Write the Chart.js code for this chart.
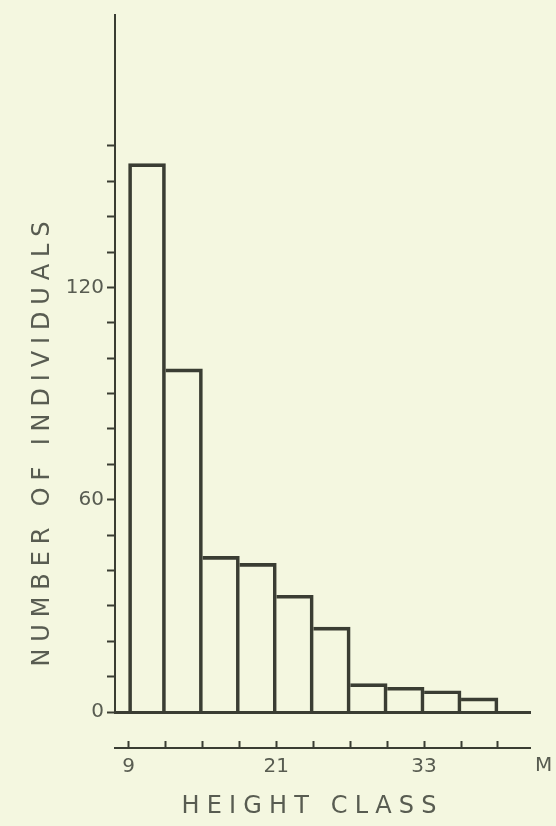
<!DOCTYPE html>
<html>
<head>
<meta charset="utf-8">
<script src="https://cdn.jsdelivr.net/npm/chart.js@4/dist/chart.umd.min.js"></script>
<style>
  html, body { margin: 0; padding: 0; background: #f4f7e0; }
  canvas { display: block; }
</style>
</head>
<body>
<canvas id="histogram" width="556" height="826"></canvas>
<script>
// height classes (lower bound in m, 3 m wide) and number of trees in each
const classStarts = [9, 12, 15, 18, 21, 24, 27, 30, 33, 36];
const classWidth = 3;
const counts = [155, 97, 44, 42, 33, 24, 8, 7, 6, 4];
const yTickLabels = [0, 60, 120];
const xTickLabels = [9, 21, 33];
const yTitle = 'NUMBER OF INDIVIDUALS';
const xTitle = 'HEIGHT CLASS';
const unitLabel = 'M';

const ink = '#3a3d33';
const textInk = '#585c51';
const family = '"DejaVu Sans", sans-serif';

const points = classStarts.map((s, i) => ({ x: s + classWidth / 2, y: counts[i] }));

// draws text spread out to a given width (lettering on the original is widely spaced)
function spreadText(ctx, text, cx, cy, width) {
  const chars = text.split('');
  const widths = chars.map(c => ctx.measureText(c).width);
  const plain = widths.reduce((a, b) => a + b, 0);
  const gap = (width - plain) / (chars.length - 1);
  let x = cx - width / 2;
  ctx.textAlign = 'left';
  chars.forEach((c, i) => {
    ctx.fillText(c, x, cy);
    x += widths[i] + gap;
  });
}

const axisTitles = {
  id: 'axisTitles',
  afterDraw(chart) {
    const ctx = chart.ctx;
    ctx.save();
    ctx.fillStyle = textInk;
    ctx.textBaseline = 'middle';
    ctx.font = '24px ' + family;
    spreadText(ctx, xTitle, 309, 807, 255);

    ctx.font = '20px ' + family;
    ctx.textAlign = 'left';
    ctx.fillText(unitLabel, 535, 766);

    ctx.font = '24px ' + family;
    ctx.translate(43, 444);
    ctx.rotate(-Math.PI / 2);
    spreadText(ctx, yTitle, 0, 0, 445);
    ctx.restore();
  }
};

// outline each bar, sharing the edge between neighbours (the taller one draws it)
const line = 3;
function barBorder(ctx) {
  const i = ctx.dataIndex;
  const h = counts[i];
  const prev = counts[i - 1];
  const next = counts[i + 1];
  return {
    top: line,
    bottom: 0,
    left: prev === undefined || prev < h ? line : 0,
    right: next === undefined || next <= h ? line : 0
  };
}

new Chart(document.getElementById('histogram'), {
  type: 'bar',
  data: {
    datasets: [{
      data: points,
      backgroundColor: 'rgba(0,0,0,0)',
      borderColor: ink,
      borderSkipped: false,
      borderWidth: barBorder,
      barPercentage: 1,
      categoryPercentage: 1
    }]
  },
  options: {
    responsive: false,
    animation: false,
    devicePixelRatio: 1,
    layout: { padding: { top: 10, right: 26, left: 0, bottom: 0 } },
    plugins: {
      legend: { display: false },
      tooltip: { enabled: false }
    },
    scales: {
      x: {
        type: 'linear',
        min: 7.9,
        max: 41.6,
        offset: false,
        ticks: { display: false },
        grid: { display: false, offset: false },
        border: { display: true, color: ink, width: 3 },
        afterFit: s => { s.height = 36; }
      },
      x2: {
        type: 'linear',
        position: 'bottom',
        min: 7.9,
        max: 41.6,
        offset: false,
        ticks: {
          stepSize: 3,
          includeBounds: false,
          autoSkip: false,
          maxRotation: 0,
          padding: 14,
          color: textInk,
          font: { family: family, size: 20 },
          callback: v => xTickLabels.includes(v) ? String(v) : ''
        },
        grid: { offset: false, drawOnChartArea: false, tickLength: -7, tickColor: ink, tickWidth: 2 },
        border: { color: ink, width: 2 },
        afterFit: s => { s.height = 78; }
      },
      y: {
        min: 0,
        max: 197,
        afterBuildTicks: s => { s.ticks = s.ticks.filter(t => t.value <= 160); },
        ticks: {
          stepSize: 10,
          padding: 3,
          color: textInk,
          font: { family: family, size: 20 },
          callback: v => yTickLabels.includes(v) ? String(v) : ''
        },
        grid: { drawOnChartArea: false, tickLength: 8, tickColor: ink, tickWidth: 2 },
        border: { color: ink, width: 2 },
        afterFit: s => { s.width = 115; }
      }
    }
  },
  plugins: [axisTitles]
});
</script>
</body>
</html>
